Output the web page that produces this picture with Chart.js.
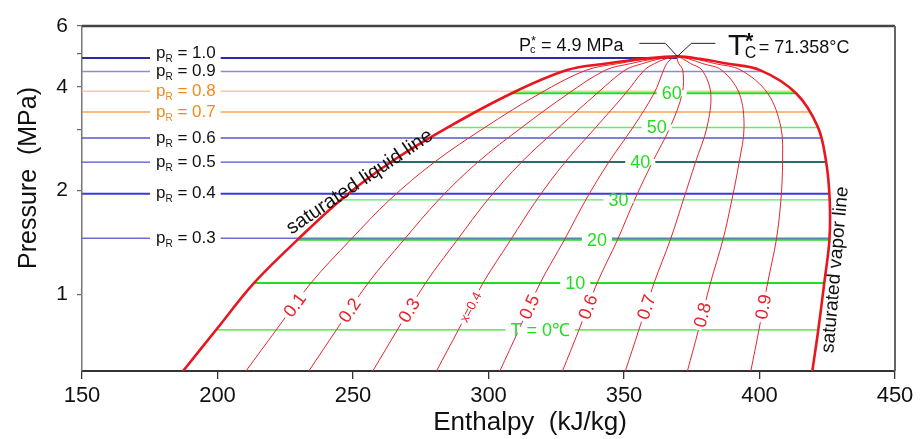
<!DOCTYPE html>
<html><head><meta charset="utf-8">
<script src="https://cdn.jsdelivr.net/npm/chart.js@4.4.1/dist/chart.umd.min.js"></script>
<style>html,body{margin:0;padding:0;background:#fff}canvas{display:block}</style>
</head><body>
<canvas id="c" width="922" height="439"></canvas>
<script>
// ---------- DATA (pressure in MPa, enthalpy in kJ/kg) ----------
const satP  = [0.6, 0.79, 1.08, 1.44, 1.88, 2.42, 3.05, 3.83, 4.47, 4.67, 4.82, 4.9];
const satHl = [187.3, 199.5, 213.5, 229.5, 245.5, 264.0, 285.0, 308.6, 329.0, 343.6, 357.0, 369.7];
const satHv = [419.5, 421.7, 423.9, 425.8, 425.9, 424.6, 421.6, 413.5, 400.2, 387.9, 378.0, 369.7];

// constant-quality lines: enthalpy at each satP pressure
const qualityNames = ['0.1','0.2','0.3','x=0.4','0.5','0.6','0.7','0.8','0.9'];
const q01 = [210.5, 221.7, 234.5, 249.1, 263.5, 280.1, 298.7, 319.1, 336.1, 348.0, 359.1, 369.7];
const q02 = [233.7, 243.9, 255.6, 268.8, 281.6, 296.1, 312.3, 329.6, 343.2, 352.5, 361.2, 369.7];
const q03 = [257.3, 266.4, 276.8, 288.5, 299.7, 312.2, 326.0, 340.1, 350.4, 356.9, 363.3, 369.7];
const q04 = [280.8, 288.9, 298.0, 308.2, 317.8, 328.3, 339.6, 350.6, 357.5, 361.3, 365.4, 369.7];
const q05 = [304.2, 311.2, 319.1, 328.0, 335.9, 344.4, 353.3, 361.1, 364.6, 365.8, 367.5, 369.7];
const q06 = [327.3, 333.4, 340.1, 347.6, 353.9, 360.5, 367.0, 371.5, 371.7, 370.2, 369.6, 369.7];
const q07 = [350.5, 355.5, 361.1, 367.1, 371.9, 376.4, 380.6, 382.0, 378.8, 374.6, 371.7, 369.7];
const q08 = [373.4, 377.5, 381.9, 386.5, 389.8, 392.5, 394.3, 392.5, 386.0, 379.0, 373.8, 369.7];
const q09 = [396.8, 399.8, 403.0, 406.2, 407.9, 408.5, 407.9, 403.0, 393.1, 383.5, 375.9, 369.7];
const qualityH = [q01, q02, q03, q04, q05, q06, q07, q08, q09];
const qualityLabelP = [0.932, 0.90, 0.90, 0.92, 0.92, 0.92, 0.92, 0.872, 0.92];

// isotherms (°C) inside the dome
const tempNames = ['T = 0\u2103', '10', '20', '30', '40', '50', '60'];
const tempP  = [0.79, 1.08, 1.44, 1.88, 2.42, 3.05, 3.83];
const tempHl = [199.5, 213.5, 229.5, 245.5, 264.0, 285.0, 308.6];
const tempHv = [421.7, 423.9, 425.8, 425.9, 424.6, 421.6, 413.5];
const tempLabelH = [319.1, 332.0, 340.0, 348.0, 356.0, 362.1, 367.6];

// reduced-pressure lines
const pRNames    = ['1.0', '0.9', '0.8', '0.7', '0.6', '0.5', '0.4', '0.3'];
const pRPressure = [4.85, 4.43, 3.88, 3.38, 2.84, 2.42, 1.96, 1.455];
const pREndH     = [369.7, 401.0, 412.7, 418.8, 422.6, 424.6, 425.8, 425.8];

const xTicks = [150, 200, 250, 300, 350, 400, 450];
const yTicks = [1, 2, 3, 4, 5, 6];
const yTickLabels = ['1', '2', '', '4', '', '6'];

// ---------- STYLES ----------
const FONT = '"Liberation Sans", Arial, sans-serif';
const tempColors = ['#2ee62e', '#22dd22', '#22dd22', '#5ee85e', '#2a6e68', '#6ee66e', '#22dd22'];
const tempWidths = [1.3, 2, 2, 1.3, 2, 1.5, 2];
const pRColors = ['#2b2ba6', '#8a8ad8', '#f6cc98', '#f2a656', '#5656d2', '#4f4fd6', '#3a3ae0', '#6c6cd6'];
const pRWidths = [2, 1.5, 1.6, 1.3, 1.6, 1.3, 2, 1.3];
const pRTextColors = ['#111', '#111', '#f0891a', '#f0891a', '#111', '#111', '#111', '#111'];

const pts = (hs, ps) => hs.map((h, i) => ({x: h, y: ps[i]}));
const satCurve = pts(satHl, satP).concat(pts(satHv, satP).reverse().slice(1));

const base = {showLine: true, pointRadius: 0, pointHoverRadius: 0, fill: false};
const datasets = [];
datasets.push({...base, data: satCurve, borderColor: '#e8161e', borderWidth: 2.6, tension: 0.35});
qualityH.forEach(q => datasets.push({...base, data: pts(q, satP), borderColor: '#e4262c', borderWidth: 1, tension: 0.35}));
tempP.forEach((p, i) => datasets.push({...base, data: [{x: tempHl[i], y: p}, {x: tempHv[i], y: p}], borderColor: tempColors[i], borderWidth: tempWidths[i], tension: 0}));
pRPressure.forEach((p, i) => datasets.push({...base, data: [{x: 150, y: p}, {x: pREndH[i], y: p}], borderColor: pRColors[i], borderWidth: pRWidths[i], tension: 0}));

function interpOnLine(xs, ys, pTarget, X, Y) {
  for (let i = 0; i < ys.length - 1; i++) {
    if (ys[i] <= pTarget && ys[i + 1] >= pTarget) {
      const x1 = X(xs[i]), y1 = Y(ys[i]), x2 = X(xs[i + 1]), y2 = Y(ys[i + 1]);
      const yt = Y(pTarget);
      const f = (yt - y1) / (y2 - y1);
      return {x: x1 + f * (x2 - x1), y: yt, ang: Math.atan2(y2 - y1, x2 - x1)};
    }
  }
  return null;
}

const annot = {
  id: 'annot',
  afterDatasetsDraw(chart) {
    const {ctx, chartArea: a, scales: {x, y}} = chart;
    const X = v => x.getPixelForValue(v), Y = v => y.getPixelForValue(v);
    ctx.save();
    // frame top & right
    ctx.strokeStyle = '#444'; ctx.lineWidth = 2.5;
    ctx.beginPath(); ctx.moveTo(a.left, a.top); ctx.lineTo(a.right, a.top); ctx.stroke();
    ctx.strokeStyle = '#666'; ctx.lineWidth = 2;
    ctx.beginPath(); ctx.moveTo(a.right, a.top); ctx.lineTo(a.right, a.bottom); ctx.stroke();

    // pR labels
    ctx.textBaseline = 'middle'; ctx.textAlign = 'left';
    pRNames.forEach((lab, i) => {
      const ly = Y(pRPressure[i]);
      const ty = ly + (i === 0 ? -5 : 0);
      const x0 = 156;
      ctx.font = '17px ' + FONT; const w1 = ctx.measureText('p').width;
      ctx.font = '10px ' + FONT; const w2 = ctx.measureText('R').width;
      ctx.font = '17px ' + FONT; const w3 = ctx.measureText(' = ' + lab).width;
      ctx.fillStyle = '#fff';
      ctx.fillRect(x0 - 6, ly - 2.5, w1 + w2 + w3 + 11, 5);
      ctx.fillStyle = pRTextColors[i];
      ctx.font = '17px ' + FONT; ctx.fillText('p', x0, ty);
      ctx.font = '10px ' + FONT; ctx.fillText('R', x0 + w1, ty + 6);
      ctx.font = '17px ' + FONT; ctx.fillText(' = ' + lab, x0 + w1 + w2, ty);
    });

    // temperature labels
    ctx.textAlign = 'center';
    tempNames.forEach((lab, i) => {
      const cx = X(tempLabelH[i]), cy = Y(tempP[i]);
      ctx.font = '18px ' + FONT;
      const w = ctx.measureText(lab).width;
      ctx.fillStyle = '#fff';
      ctx.fillRect(cx - w / 2 - 5, cy - 3, w + 10, 6);
      ctx.fillStyle = '#22dd22';
      ctx.fillText(lab, cx, cy + 1);
    });

    // quality labels
    qualityNames.forEach((lab, i) => {
      const pos = interpOnLine(qualityH[i], satP, qualityLabelP[i], X, Y);
      if (!pos) return;
      ctx.save();
      ctx.translate(pos.x, pos.y);
      ctx.rotate(pos.ang);
      ctx.font = (i === 3 ? '13px ' : '18px ') + FONT;
      const w = ctx.measureText(lab).width;
      ctx.fillStyle = '#fff';
      ctx.fillRect(-w / 2 - 3, -3, w + 6, 6);
      ctx.fillStyle = '#e8222a';
      ctx.fillText(lab, 0, 1);
      ctx.restore();
    });

    // saturated line labels
    ctx.fillStyle = '#111';
    ctx.font = '20px ' + FONT;
    ctx.save(); ctx.translate(X(252.5), Y(2.12)); ctx.rotate(-34 * Math.PI / 180);
    ctx.fillText('saturated liquid line', 0, 0); ctx.restore();
    ctx.font = '19px ' + FONT;
    ctx.save(); ctx.translate(X(428.0), Y(1.18)); ctx.rotate(-85 * Math.PI / 180);
    ctx.fillText('saturated vapor line', 0, 0); ctx.restore();

    // critical point annotation
    const cx = X(369.7), cy = Y(4.9);
    ctx.strokeStyle = '#222'; ctx.lineWidth = 1;
    ctx.beginPath();
    ctx.moveTo(cx - 38, cy - 13); ctx.lineTo(cx - 12, cy - 13); ctx.lineTo(cx, cy);
    ctx.lineTo(cx + 14, cy - 13); ctx.lineTo(cx + 38, cy - 13);
    ctx.stroke();
    ctx.textAlign = 'left'; ctx.textBaseline = 'alphabetic'; ctx.fillStyle = '#111';
    let px = 519, by = 51;
    ctx.font = '18px ' + FONT; ctx.fillText('P', px, by); px += ctx.measureText('P').width;
    ctx.font = '11px ' + FONT; ctx.fillText('c', px - 1, by + 2);
    ctx.font = '13px ' + FONT; ctx.fillText('*', px, by - 6); px += ctx.measureText('*').width;
    ctx.font = '18px ' + FONT; ctx.fillText(' = 4.9 MPa', px, by);
    px = 728; by = 55;
    ctx.font = '29px ' + FONT; ctx.fillText('T', px, by); px += ctx.measureText('T').width;
    ctx.font = '16px ' + FONT; ctx.fillText('C', px - 1, by + 3);
    ctx.font = 'bold 22px ' + FONT; ctx.fillText('*', px - 1, by - 7);
    ctx.font = '18px ' + FONT; ctx.fillText('= 71.358\u00B0C', px + 13, by - 2);

    // axis titles
    ctx.textAlign = 'center'; ctx.textBaseline = 'middle';
    ctx.font = '26px ' + FONT;
    ctx.fillText('Enthalpy  (kJ/kg)', 530, 423);
    ctx.font = '25px ' + FONT;
    ctx.save(); ctx.translate(29, 178); ctx.rotate(-Math.PI / 2);
    ctx.fillText('Pressure  (MPa)', 0, 0); ctx.restore();
    ctx.restore();
  }
};

new Chart(document.getElementById('c'), {
  type: 'scatter',
  data: {datasets},
  options: {
    responsive: false, animation: false, devicePixelRatio: 1,
    layout: {padding: {top: 26, right: 27, left: 0, bottom: 0}},
    plugins: {legend: {display: false}, tooltip: {enabled: false}},
    scales: {
      x: {
        type: 'linear', min: 150, max: 450,
        afterBuildTicks: s => { s.ticks = xTicks.map(v => ({value: v})); },
        afterFit: s => { s.height = 68; },
        ticks: {font: {family: FONT, size: 22}, color: '#111', padding: 4, autoSkip: false, maxRotation: 0},
        grid: {drawOnChartArea: false, drawTicks: true, tickLength: 8, color: '#333', lineWidth: 1.3},
        border: {display: true, color: '#333', width: 2}
      },
      y: {
        type: 'logarithmic', min: 0.6, max: 6, bounds: 'data',
        afterBuildTicks: s => { s.ticks = yTicks.map(v => ({value: v})); },
        afterFit: s => { s.width = 82; },
        ticks: {font: {family: FONT, size: 21}, color: '#111', padding: 9, autoSkip: false,
          callback: (v) => { const k = yTicks.indexOf(v); return k >= 0 ? yTickLabels[k] : ''; }},
        grid: {drawOnChartArea: false, drawTicks: true, tickLength: 5, color: '#666', lineWidth: 1.2},
        border: {display: true, color: '#777', width: 1.5}
      }
    }
  },
  plugins: [annot]
});
</script>
</body></html>
